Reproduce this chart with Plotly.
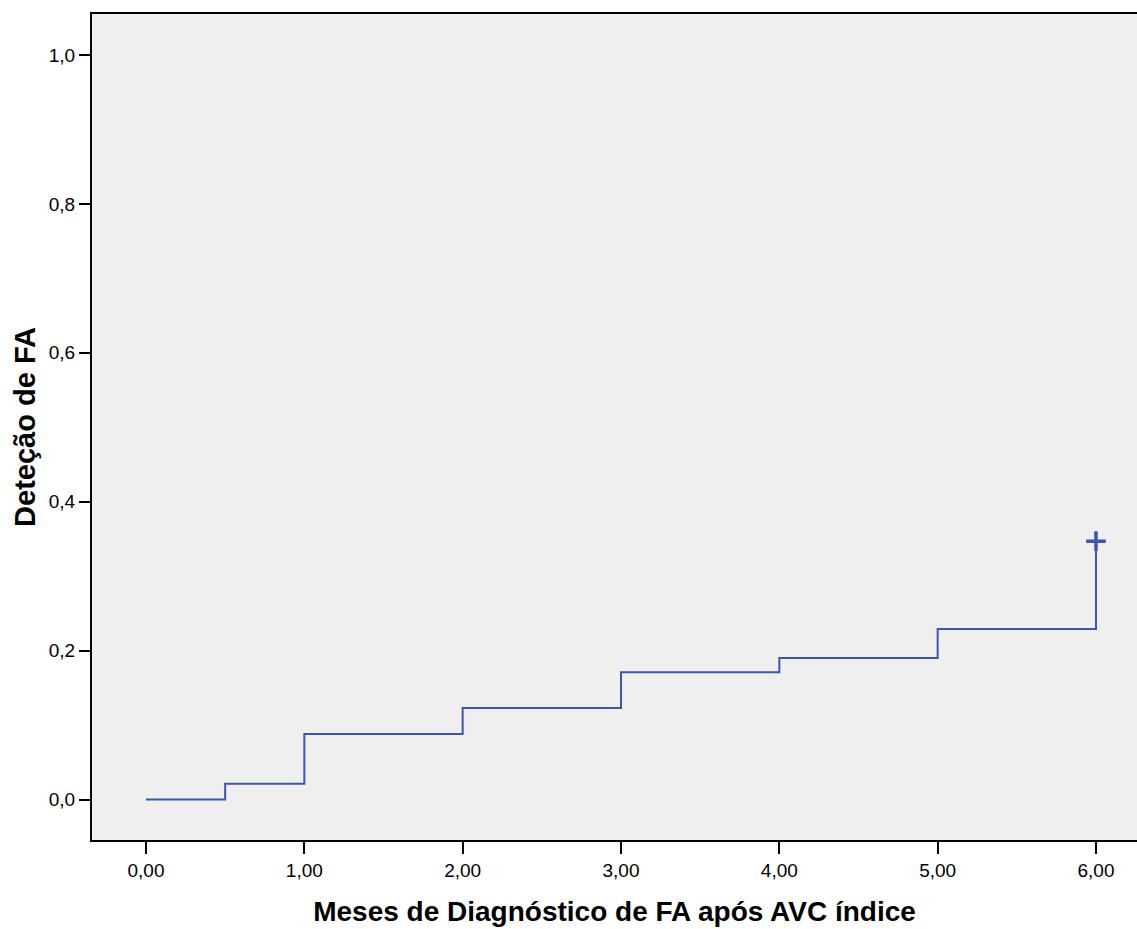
import plotly.graph_objects as go

# Data
months = [0.0, 0.5, 1.0, 2.0, 3.0, 4.0, 5.0, 6.0]
detection = [0.0, 0.021, 0.088, 0.123, 0.171, 0.190, 0.229, 0.347]
censor_x = [6.0]
censor_y = [0.347]

x_ticks = [0, 1, 2, 3, 4, 5, 6]
x_tick_labels = ["0,00", "1,00", "2,00", "3,00", "4,00", "5,00", "6,00"]
y_ticks = [0.0, 0.2, 0.4, 0.6, 0.8, 1.0]
y_tick_labels = ["0,0", "0,2", "0,4", "0,6", "0,8", "1,0"]

line_color = "#3d56ad"

fig = go.Figure()
fig.add_trace(go.Scatter(
    x=months, y=detection, mode="lines", line_shape="hv",
    line=dict(color=line_color, width=2), showlegend=False, hoverinfo="skip"))
fig.add_trace(go.Scatter(
    x=censor_x, y=censor_y, mode="markers",
    marker=dict(symbol="cross-thin", size=14, line=dict(color=line_color, width=3.5)),
    showlegend=False))

font_family = "Liberation Sans, Arial, sans-serif"
fig.update_layout(
    width=1137, height=929,
    margin=dict(l=92, r=0, t=14, b=89),
    paper_bgcolor="white", plot_bgcolor="#efefef",
    font=dict(family=font_family, color="black", size=19),
    xaxis=dict(
        range=[-0.341, 6.259], tickmode="array", tickvals=x_ticks, ticktext=x_tick_labels,
        showgrid=False, zeroline=False, showline=True, linecolor="black", linewidth=2,
        mirror=True, ticks="outside", ticklen=12, tickwidth=2, tickcolor="black",
        tickfont=dict(size=19), automargin=False,
        title=dict(text="<b>Meses de Diagnóstico de FA após AVC índice</b>",
                   font=dict(size=28), standoff=22),
    ),
    yaxis=dict(
        range=[-0.0544, 1.055], tickmode="array", tickvals=y_ticks, ticktext=y_tick_labels,
        showgrid=False, zeroline=False, showline=True, linecolor="black", linewidth=2,
        mirror=True, ticks="outside", ticklen=11, tickwidth=2, tickcolor="black",
        tickfont=dict(size=19), automargin=False,
        title=dict(text="<b>Deteção de FA</b>", font=dict(size=29), standoff=5),
    ),
)

fig.write_html("out.html", config={"displayModeBar": False},
               post_script="document.body.style.margin='0';document.body.style.overflow='hidden';window.dispatchEvent(new Event('resize'));")
